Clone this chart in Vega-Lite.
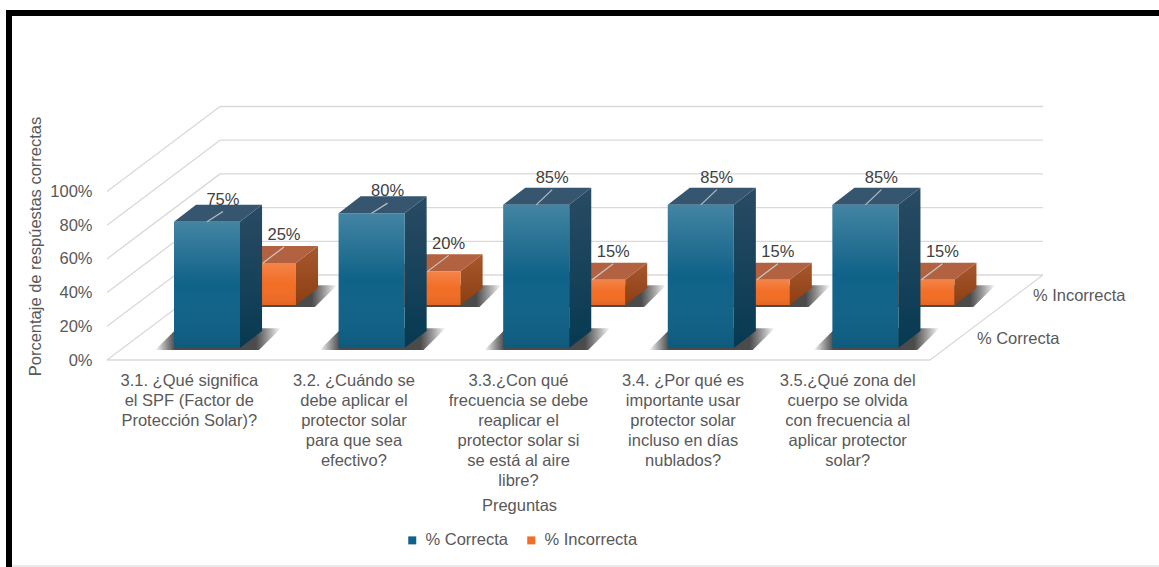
{
"$schema":"https://vega.github.io/schema/vega-lite/v6.json",
"width":936,"height":253,
"autosize":{"type":"none"},
"padding":{"left":107,"top":107,"right":116,"bottom":207},
"background":"white",
"config":{"font":"Liberation Sans","view":{"stroke":null},
 "axis":{"grid":false,"domain":false,"ticks":false,"labelColor":"#595959","titleColor":"#595959","labelFont":"Liberation Sans","titleFont":"Liberation Sans","labelFontSize":16.5,"titleFontSize":16.5,"titleFontWeight":"normal"},
 "legend":{"labelFont":"Liberation Sans","labelColor":"#595959","labelFontSize":16.5}},
"title":{"text":"Encuesta de  conocimiento  Uso  adecuado  del  Protector  solar","anchor":"middle","frame":"group","dx":10,"offset":42,"fontSize":22,"fontWeight":"bold","color":"#595959","font":"Liberation Sans"},
"datasets":{"grid":[{"pct":0},{"pct":20},{"pct":40},{"pct":60},{"pct":80},{"pct":100}]},
"data":{"values":[
{"pregunta":"3.1. ¿Qué significa\nel SPF (Factor de\nProtección Solar)?","orden":1,"serie":"% Correcta","valor":75},
{"pregunta":"3.1. ¿Qué significa\nel SPF (Factor de\nProtección Solar)?","orden":1,"serie":"% Incorrecta","valor":25},
{"pregunta":"3.2. ¿Cuándo se\ndebe aplicar el\nprotector solar\npara que sea\nefectivo?","orden":2,"serie":"% Correcta","valor":80},
{"pregunta":"3.2. ¿Cuándo se\ndebe aplicar el\nprotector solar\npara que sea\nefectivo?","orden":2,"serie":"% Incorrecta","valor":20},
{"pregunta":"3.3.¿Con qué\nfrecuencia se debe\nreaplicar el\nprotector solar si\nse está al aire\nlibre?","orden":3,"serie":"% Correcta","valor":85},
{"pregunta":"3.3.¿Con qué\nfrecuencia se debe\nreaplicar el\nprotector solar si\nse está al aire\nlibre?","orden":3,"serie":"% Incorrecta","valor":15},
{"pregunta":"3.4. ¿Por qué es\nimportante usar\nprotector solar\nincluso en días\nnublados?","orden":4,"serie":"% Correcta","valor":85},
{"pregunta":"3.4. ¿Por qué es\nimportante usar\nprotector solar\nincluso en días\nnublados?","orden":4,"serie":"% Incorrecta","valor":15},
{"pregunta":"3.5.¿Qué zona del\ncuerpo se olvida\ncon frecuencia al\naplicar protector\nsolar?","orden":5,"serie":"% Correcta","valor":85},
{"pregunta":"3.5.¿Qué zona del\ncuerpo se olvida\ncon frecuencia al\naplicar protector\nsolar?","orden":5,"serie":"% Incorrecta","valor":15}
]},
"transform":[
{"calculate":"datum.serie=='% Correcta'?0:1","as":"d"},
{"calculate":"datum.orden-1+0.407+0.34*datum.d","as":"x0"},
{"calculate":"datum.x0+0.401","as":"x1"},
{"calculate":"(datum.x0+datum.x1)/2","as":"xc"},
{"calculate":"7.1+25.5*datum.d","as":"y0"},
{"calculate":"datum.y0+datum.valor","as":"y1"},
{"calculate":"[0,1]","as":"t"},
{"flatten":["t"]},
{"calculate":"datum.x0+0.134*datum.t","as":"tx0"},
{"calculate":"datum.x1+0.134*datum.t","as":"tx1"},
{"calculate":"datum.y0+10.1*datum.t","as":"ty0"},
{"calculate":"datum.y1+10.1*datum.t","as":"ty1"},
{"calculate":"datum.tx0-0.115","as":"sx0"},
{"calculate":"datum.tx1+0.115","as":"sx1"},
{"calculate":"datum.y0-1.2+13*datum.t","as":"sy"},
{"calculate":"datum.d==0?(datum.valor>=85?9:6):9.5","as":"ld"},
{"calculate":"datum.xc+(datum.d==0?0.097:0.128)","as":"lx"},
{"calculate":"datum.y1+datum.ld","as":"ly"},
{"calculate":"datum.ly+7","as":"ty"},
{"calculate":"datum.valor+'%'","as":"etiqueta"},
{"calculate":"5.285+0.34*datum.d","as":"px"},
{"calculate":"12.5+25.5*datum.d","as":"py"},
{"calculate":"datum.orden-0.5","as":"cx"}
],
"layer":[
{"data":{"name":"grid"},"transform":[{"calculate":"datum.pct+50.45","as":"w"}],
 "mark":{"type":"rule","stroke":"#D9D9D9","strokeWidth":1.3},
 "encoding":{
  "x":{"datum":0,"type":"quantitative","scale":{"domain":[0,5.6865],"nice":false,"zero":false},
    "axis":{"labels":false,"title":"Preguntas","titleX":412,"titleY":145,"titleBaseline":"middle"}},
  "x2":{"datum":0.6865},
  "y":{"field":"pct","type":"quantitative","scale":{"domain":[0,150.15],"nice":false},
    "axis":{"values":[0,20,40,60,80,100],"labelExpr":"datum.value+'%'","labelPadding":15,"title":"Porcentaje de respúestas correctas","titleX":-72,"titleY":139,"titleAngle":-90,"titleAlign":"center","titleBaseline":"middle"}},
  "y2":{"field":"w"}}},
{"data":{"name":"grid"},"transform":[{"calculate":"datum.pct+50.45","as":"w"}],
 "mark":{"type":"rule","stroke":"#D9D9D9","strokeWidth":1.3},
 "encoding":{"x":{"datum":0.6865},"x2":{"datum":5.6865},"y":{"field":"w","type":"quantitative"}}},
{"data":{"name":"grid"},"transform":[{"filter":"datum.pct==0"}],
 "mark":{"type":"rule","stroke":"#D9D9D9","strokeWidth":1.3},
 "encoding":{"x":{"datum":0},"x2":{"datum":5},"y":{"field":"pct","type":"quantitative"}}},
{"data":{"name":"grid"},"transform":[{"filter":"datum.pct==0"},{"calculate":"datum.pct+50.45","as":"w"}],
 "mark":{"type":"rule","stroke":"#D9D9D9","strokeWidth":1.3},
 "encoding":{"x":{"datum":5},"x2":{"datum":5.6865},"y":{"field":"pct","type":"quantitative"},"y2":{"field":"w"}}},

{"transform":[{"filter":"datum.d==1"}],
 "mark":{"type":"area","orient":"horizontal","fill":{"gradient":"linear","x1":0,"y1":0,"x2":1,"y2":0,"stops":[{"offset":0,"color":"rgba(0,0,0,0)"},{"offset":0.16,"color":"rgba(30,30,30,0.8)"},{"offset":0.8,"color":"rgba(30,30,30,0.8)"},{"offset":1,"color":"rgba(0,0,0,0)"}]}},
 "encoding":{"y":{"field":"sy","type":"quantitative"},"x":{"field":"sx0","type":"quantitative"},"x2":{"field":"sx1"},"detail":{"field":"orden"}}},
{"transform":[{"filter":"datum.d==1"}],
 "mark":{"type":"area","orient":"vertical","fill":{"gradient":"linear","x1":0,"y1":0,"x2":0,"y2":1,"stops":[{"offset":0,"color":"#A9582E"},{"offset":1,"color":"#8C3E12"}]}},
 "encoding":{"x":{"field":"tx1","type":"quantitative"},"y":{"field":"ty1","type":"quantitative"},"y2":{"field":"ty0"},"detail":{"field":"orden"}}},
{"transform":[{"filter":"datum.d==1"}],
 "mark":{"type":"area","orient":"horizontal","fill":"#B26240"},
 "encoding":{"y":{"field":"ty1","type":"quantitative"},"x":{"field":"tx0","type":"quantitative"},"x2":{"field":"tx1"},"detail":{"field":"orden"}}},
{"transform":[{"filter":"datum.d==1 && datum.t==0"}],
 "mark":{"type":"rect"},
 "encoding":{"x":{"field":"x0","type":"quantitative"},"x2":{"field":"x1"},"y":{"field":"y0","type":"quantitative"},"y2":{"field":"y1"},
  "color":{"field":"serie","type":"nominal","scale":{"domain":["% Correcta","% Incorrecta"],"range":["#0F6288","#F26D25"]},
   "legend":{"title":null,"orient":"none","direction":"horizontal","columns":2,"legendX":297,"legendY":425,"symbolType":"square","symbolSize":64,"symbolStrokeWidth":0,"labelOffset":5,"columnPadding":14}}}},
{"transform":[{"filter":"datum.d==1 && datum.t==0"}],
 "mark":{"type":"rect","fill":{"gradient":"linear","x1":0,"y1":0,"x2":0,"y2":1,"stops":[{"offset":0,"color":"rgba(255,255,255,0.16)"},{"offset":0.5,"color":"rgba(255,255,255,0)"},{"offset":1,"color":"rgba(0,0,0,0.07)"}]}},
 "encoding":{"x":{"field":"x0","type":"quantitative"},"x2":{"field":"x1"},"y":{"field":"y0","type":"quantitative"},"y2":{"field":"y1"}}},
{"transform":[{"filter":"datum.d==1 && datum.t==0"}],
 "mark":{"type":"rule","stroke":"#C9C9C9","strokeWidth":1.2},
 "encoding":{"x":{"field":"xc","type":"quantitative"},"x2":{"field":"lx"},"y":{"field":"y1","type":"quantitative"},"y2":{"field":"ly"}}},

{"transform":[{"filter":"datum.d==0"}],
 "mark":{"type":"area","orient":"horizontal","fill":{"gradient":"linear","x1":0,"y1":0,"x2":1,"y2":0,"stops":[{"offset":0,"color":"rgba(0,0,0,0)"},{"offset":0.16,"color":"rgba(30,30,30,0.8)"},{"offset":0.8,"color":"rgba(30,30,30,0.8)"},{"offset":1,"color":"rgba(0,0,0,0)"}]}},
 "encoding":{"y":{"field":"sy","type":"quantitative"},"x":{"field":"sx0","type":"quantitative"},"x2":{"field":"sx1"},"detail":{"field":"orden"}}},
{"transform":[{"filter":"datum.d==0"}],
 "mark":{"type":"area","orient":"vertical","fill":{"gradient":"linear","x1":0,"y1":0,"x2":0,"y2":1,"stops":[{"offset":0,"color":"#2A4B64"},{"offset":1,"color":"#063A52"}]}},
 "encoding":{"x":{"field":"tx1","type":"quantitative"},"y":{"field":"ty1","type":"quantitative"},"y2":{"field":"ty0"},"detail":{"field":"orden"}}},
{"transform":[{"filter":"datum.d==0"}],
 "mark":{"type":"area","orient":"horizontal","fill":"#365670"},
 "encoding":{"y":{"field":"ty1","type":"quantitative"},"x":{"field":"tx0","type":"quantitative"},"x2":{"field":"tx1"},"detail":{"field":"orden"}}},
{"transform":[{"filter":"datum.d==0 && datum.t==0"}],
 "mark":{"type":"rect"},
 "encoding":{"x":{"field":"x0","type":"quantitative"},"x2":{"field":"x1"},"y":{"field":"y0","type":"quantitative"},"y2":{"field":"y1"},
  "color":{"field":"serie","type":"nominal"}}},
{"transform":[{"filter":"datum.d==0 && datum.t==0"}],
 "mark":{"type":"rect","fill":{"gradient":"linear","x1":0,"y1":0,"x2":0,"y2":1,"stops":[{"offset":0,"color":"rgba(255,255,255,0.22)"},{"offset":0.5,"color":"rgba(255,255,255,0)"},{"offset":1,"color":"rgba(0,0,0,0.08)"}]}},
 "encoding":{"x":{"field":"x0","type":"quantitative"},"x2":{"field":"x1"},"y":{"field":"y0","type":"quantitative"},"y2":{"field":"y1"}}},
{"transform":[{"filter":"datum.d==0 && datum.t==0"}],
 "mark":{"type":"rule","stroke":"#B5BEC6","strokeWidth":1.2},
 "encoding":{"x":{"field":"xc","type":"quantitative"},"x2":{"field":"lx"},"y":{"field":"y1","type":"quantitative"},"y2":{"field":"ly"}}},

{"transform":[{"filter":"datum.t==0"}],
 "mark":{"type":"text","fontSize":16.5,"color":"#404040","align":"center","baseline":"middle"},
 "encoding":{"x":{"field":"lx","type":"quantitative"},"y":{"field":"ty","type":"quantitative"},"text":{"field":"etiqueta"}}},
{"transform":[{"filter":"datum.t==0 && datum.d==0"}],
 "mark":{"type":"text","fontSize":16.5,"color":"#595959","align":"center","baseline":"top","lineBreak":"\n","lineHeight":20},
 "encoding":{"x":{"field":"cx","type":"quantitative"},"y":{"datum":-7.5},"text":{"field":"pregunta"}}},
{"transform":[{"filter":"datum.t==0 && datum.orden==1"}],
 "mark":{"type":"text","fontSize":16.5,"color":"#595959","align":"left","baseline":"middle"},
 "encoding":{"x":{"field":"px","type":"quantitative"},"y":{"field":"py","type":"quantitative"},"text":{"field":"serie"}}},

{"data":{"values":[{"borde":"superior"}]},"mark":{"type":"rule","stroke":"#000000","strokeWidth":6},
 "encoding":{"x":{"datum":-0.6136},"x2":{"datum":6.4},"y":{"datum":205.9}}},
{"data":{"values":[{"borde":"izquierdo"}]},"mark":{"type":"rule","stroke":"#000000","strokeWidth":6},
 "encoding":{"x":{"datum":-0.5954},"y":{"datum":207.7},"y2":{"datum":-123}}},
{"data":{"values":[{"borde":"inferior"}]},"mark":{"type":"rule","stroke":"#E3E3E3","strokeWidth":1.5},
 "encoding":{"x":{"datum":-0.577},"x2":{"datum":6.4},"y":{"datum":-122.2}}}
]
}
